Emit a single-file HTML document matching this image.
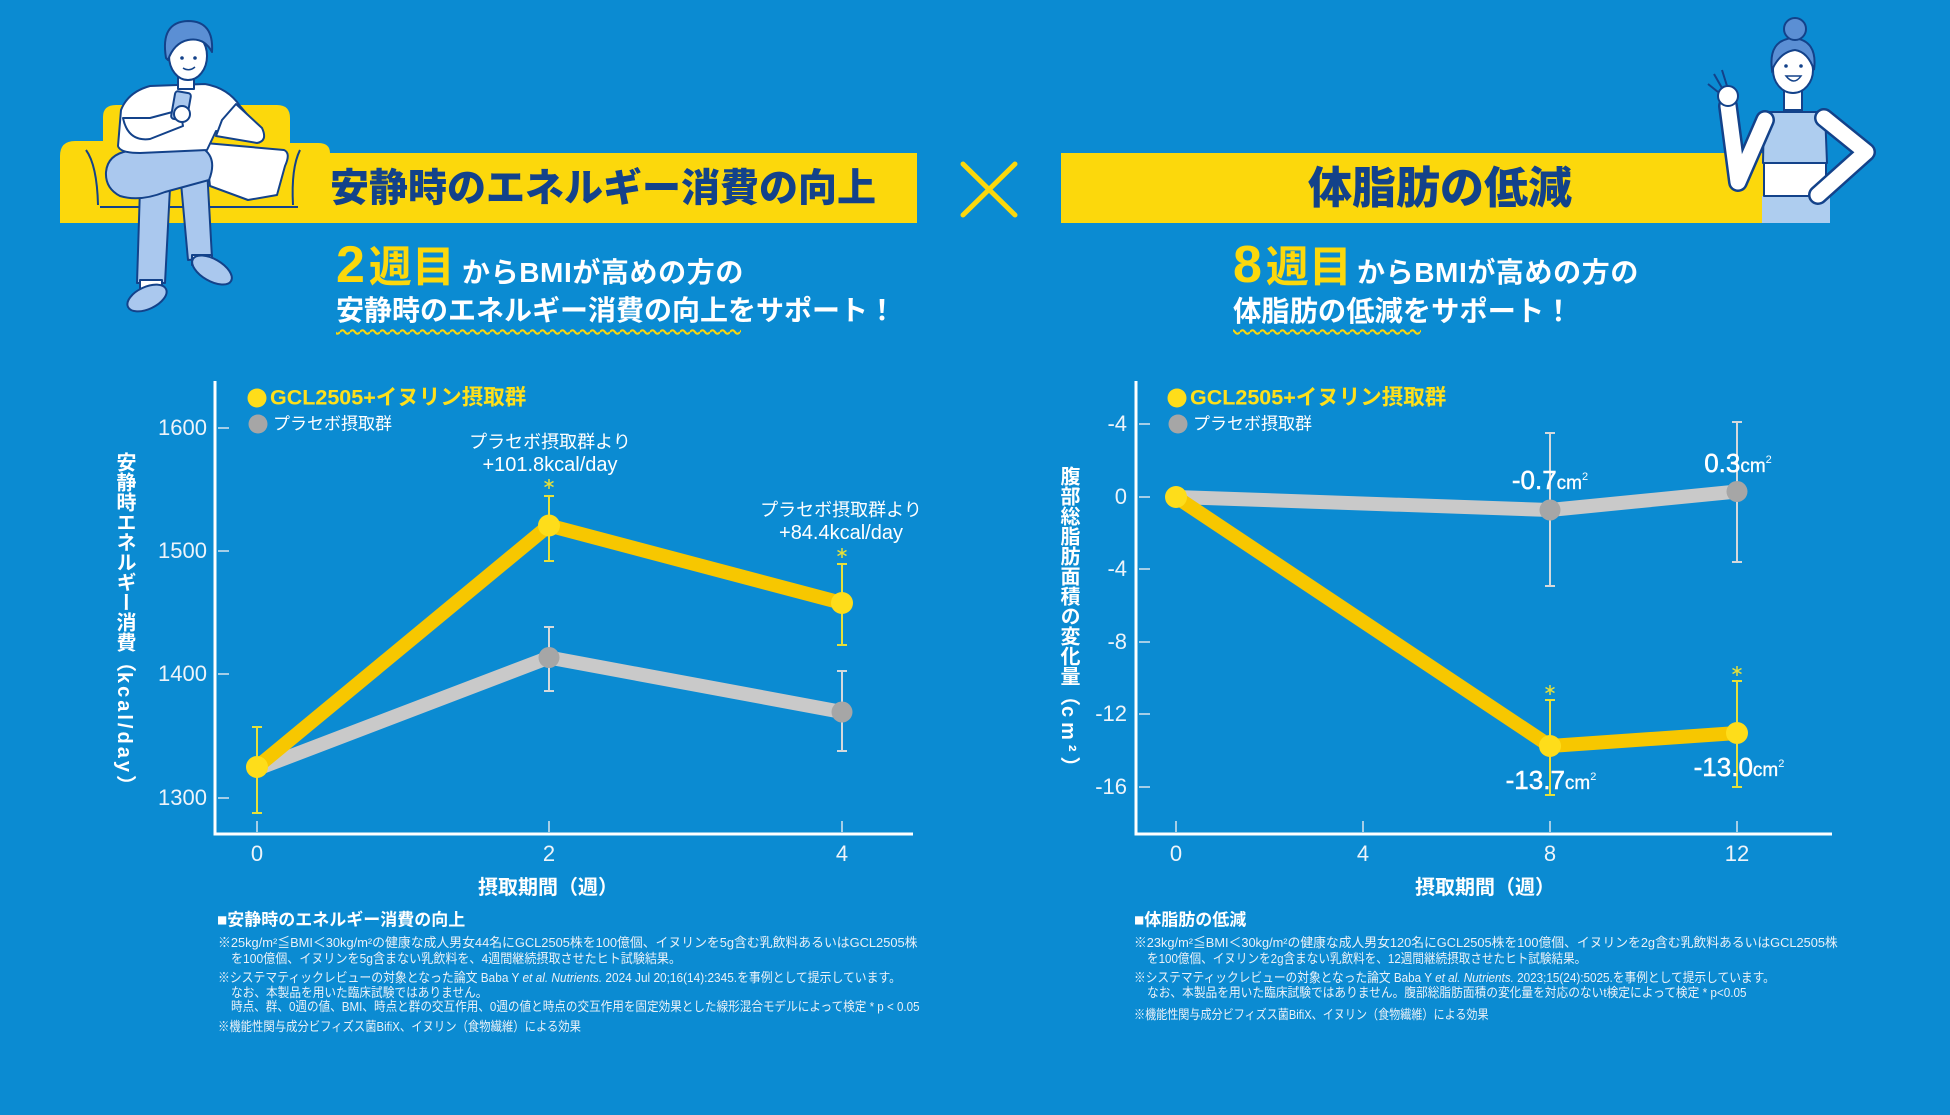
<!DOCTYPE html>
<html lang="ja">
<head>
<meta charset="utf-8">
<style>
html,body{margin:0;padding:0;background:#0b8bd2;}
#c{position:relative;width:1950px;height:1115px;overflow:hidden;background:#0b8bd2;font-family:"Liberation Sans","Noto Sans CJK JP",sans-serif;color:#fff;}
svg{position:absolute;left:0;top:0;}
.a{position:absolute;white-space:nowrap;line-height:1;}
.cc{transform:translate(-50%,-50%);}
.lc{transform:translateY(-50%);}
.rc{transform:translate(-100%,-50%);}
.title{font-weight:900;color:#13428a;}
.sub{font-weight:700;color:#fff;}
.tick{font-size:22px;color:#eef4fa;}
.ann{font-size:18px;color:#fff;}
.ann2{font-size:20px;color:#fff;}
.leg1{font-size:21.5px;font-weight:700;color:#ffe01a;}
.leg2{font-size:17px;color:#fff;}
.axt{font-size:20px;font-weight:700;color:#fff;}
.vt{position:absolute;writing-mode:vertical-rl;text-orientation:mixed;font-size:20px;font-weight:700;line-height:20px;color:#fff;white-space:nowrap;}
.val{font-size:26px;-webkit-text-stroke:0.5px #fff;color:#fff;}
.val .u{font-size:19px;-webkit-text-stroke:0.3px #fff;}
.val sup{font-size:11px;vertical-align:9px;-webkit-text-stroke:0;}
.fh{font-size:17px;font-weight:700;color:#fff;}
.fn{font-size:13.2px;color:#e9f1f8;line-height:16px;transform-origin:left center;}
</style>
</head>
<body>
<div id="c">
<svg width="1950" height="1115" viewBox="0 0 1950 1115" xmlns="http://www.w3.org/2000/svg">
  <defs>
    <pattern id="wave" x="0" y="327" width="10" height="9" patternUnits="userSpaceOnUse">
      <path d="M0 5 Q2.5 1.5 5 5 T10 5" fill="none" stroke="#fcd80c" stroke-width="2"/>
    </pattern>
  </defs>

  <!-- LEFT banner + sofa -->
  <path d="M60 223 V156 Q60 141 75 141 H103 V117 Q103 105 116 105 H277 Q290 105 290 118 V143 H318 Q330 143 330 153 H917 V223 Z" fill="#fcd80c"/>
  <path d="M86 150 Q97 165 98 205" fill="none" stroke="#13428a" stroke-width="2"/>
  <path d="M300 150 Q291 168 293 205" fill="none" stroke="#13428a" stroke-width="2"/>
  <line x1="100" y1="207" x2="298" y2="207" stroke="#13428a" stroke-width="2"/>

  <!-- man -->
  <g stroke="#13428a" stroke-width="2" stroke-linejoin="round">
    <path d="M205 143 L284 150 Q291 153 285 166 L277 195 L248 200 L210 186 Z" fill="#fff"/>
    <path d="M140 188 L170 188 L165 283 L137 283 Z" fill="#aac8ee"/>
    <path d="M180 172 L207 168 L212 258 L188 260 Z" fill="#aac8ee"/>
    <rect x="140" y="280" width="22" height="12" fill="#fff"/>
    <rect x="192" y="255" width="20" height="10" fill="#fff"/>
    <ellipse cx="147" cy="298" rx="21" ry="11" transform="rotate(-25 147 298)" fill="#aac8ee"/>
    <ellipse cx="212" cy="270" rx="22" ry="11" transform="rotate(30 212 270)" fill="#aac8ee"/>
    <path d="M106 172 Q108 150 140 150 L205 150 Q217 160 209 180 L165 192 Q140 202 120 196 Q105 188 106 172 Z" fill="#aac8ee"/>
    <path d="M118 146 L121 110 Q128 92 150 86 L205 84 Q228 88 240 106 L258 127 L246 138 L216 131 L207 150 L140 153 Q120 153 118 146 Z" fill="#fff"/>
    <path d="M123 118 Q128 142 150 139 L183 126 L180 110 L150 118 Z" fill="#fff"/>
    <path d="M236 104 L262 128 Q268 141 257 143 L216 136 L222 120 Z" fill="#fff"/>
    <rect x="173" y="92" width="16" height="28" rx="3" transform="rotate(10 181 106)" fill="#aac8ee"/>
    <circle cx="182" cy="114" r="8" fill="#fff"/>
    <rect x="178" y="76" width="16" height="13" fill="#fff"/>
    <ellipse cx="188" cy="56" rx="19" ry="24" fill="#fff"/>
    <path d="M166 58 Q160 22 188 21 Q214 21 212 52 Q204 37 188 40 Q174 43 168 60 Z" fill="#5b8fd4"/>
  </g>
  <circle cx="182" cy="58" r="1.8" fill="#13428a"/>
  <circle cx="195" cy="58" r="1.8" fill="#13428a"/>
  <path d="M183 68 Q189 72 195 67" fill="none" stroke="#13428a" stroke-width="1.5"/>

  <!-- cross -->
  <g stroke="#fcd80c" stroke-width="5" stroke-linecap="round">
    <line x1="963" y1="164" x2="1015" y2="215"/>
    <line x1="1015" y1="164" x2="963" y2="215"/>
  </g>

  <!-- RIGHT banner -->
  <rect x="1061" y="153" width="706" height="70" fill="#fcd80c"/>

  <!-- woman -->
  <g stroke="#13428a" stroke-width="2" stroke-linejoin="round">
    <rect x="1762" y="196" width="68" height="27" fill="#aecdef" stroke="none"/>
    <rect x="1764" y="162" width="62" height="34" fill="#fff"/>
    <path d="M1764 112 L1825 112 L1827 163 L1763 163 Z" fill="#aecdef"/>
  </g>
  <polyline points="1765,120 1738,182 1728,106" fill="none" stroke="#13428a" stroke-width="20" stroke-linejoin="round" stroke-linecap="round"/>
  <polyline points="1765,120 1738,182 1728,106" fill="none" stroke="#fff" stroke-width="15" stroke-linejoin="round" stroke-linecap="round"/>
  <polyline points="1824,118 1866,152 1818,195" fill="none" stroke="#13428a" stroke-width="20" stroke-linejoin="round" stroke-linecap="round"/>
  <polyline points="1824,118 1866,152 1818,195" fill="none" stroke="#fff" stroke-width="15" stroke-linejoin="round" stroke-linecap="round"/>
  <g stroke="#13428a" stroke-width="2">
    <circle cx="1728" cy="96" r="10" fill="#fff"/>
    <line x1="1722" y1="88" x2="1714" y2="74"/>
    <line x1="1727" y1="86" x2="1722" y2="70"/>
    <line x1="1718" y1="92" x2="1708" y2="84"/>
    <rect x="1784" y="86" width="18" height="24" fill="#fff"/>
    <ellipse cx="1793" cy="70" rx="20" ry="23" fill="#fff"/>
    <path d="M1772 70 Q1768 40 1793 38 Q1818 40 1814 70 Q1808 52 1795 50 Q1780 52 1772 70 Z" fill="#5b8fd4"/>
    <circle cx="1795" cy="29" r="11" fill="#5b8fd4"/>
  </g>
  <circle cx="1786" cy="66" r="1.8" fill="#13428a"/>
  <circle cx="1801" cy="66" r="1.8" fill="#13428a"/>
  <path d="M1786 76 Q1794 86 1801 76 Z" fill="#fff" stroke="#13428a" stroke-width="1.5"/>

  <!-- wavy underlines -->
  <rect x="336" y="327" width="405" height="9" fill="url(#wave)"/>
  <rect x="1233" y="327" width="188" height="9" fill="url(#wave)"/>

  <!-- ============ LEFT CHART ============ -->
  <g stroke="#ffffff" stroke-width="3">
    <line x1="215" y1="381" x2="215" y2="835.5"/>
    <line x1="213.5" y1="834" x2="913" y2="834"/>
  </g>
  <g stroke="#d9e4ee" stroke-width="1.5">
    <line x1="218" y1="428" x2="229" y2="428"/>
    <line x1="218" y1="551" x2="229" y2="551"/>
    <line x1="218" y1="674" x2="229" y2="674"/>
    <line x1="218" y1="798" x2="229" y2="798"/>
    <line x1="257" y1="821" x2="257" y2="832"/>
    <line x1="549" y1="821" x2="549" y2="832"/>
    <line x1="842" y1="821" x2="842" y2="832"/>
  </g>
  <polyline points="257,769 549,657.5 842,712" fill="none" stroke="#c9c9c9" stroke-width="14" stroke-linejoin="round" stroke-linecap="round"/>
  <polyline points="257,767 549,525.5 842,603" fill="none" stroke="#f7c700" stroke-width="14" stroke-linejoin="round" stroke-linecap="round"/>
  <g stroke="#e6e03a" stroke-width="2">
    <line x1="257" y1="727" x2="257" y2="813"/><line x1="252" y1="727" x2="262" y2="727"/><line x1="252" y1="813" x2="262" y2="813"/>
    <line x1="549" y1="496" x2="549" y2="561"/><line x1="544" y1="496" x2="554" y2="496"/><line x1="544" y1="561" x2="554" y2="561"/>
    <line x1="842" y1="564" x2="842" y2="645"/><line x1="837" y1="564" x2="847" y2="564"/><line x1="837" y1="645" x2="847" y2="645"/>
  </g>
  <g stroke="#d5d9dc" stroke-width="2">
    <line x1="549" y1="627" x2="549" y2="691"/><line x1="544" y1="627" x2="554" y2="627"/><line x1="544" y1="691" x2="554" y2="691"/>
    <line x1="842" y1="671" x2="842" y2="751"/><line x1="837" y1="671" x2="847" y2="671"/><line x1="837" y1="751" x2="847" y2="751"/>
  </g>
  <g stroke="#e6e03a" stroke-width="1.5">
    <line x1="549" y1="479" x2="549" y2="489"/><line x1="544.5" y1="481.5" x2="553.5" y2="486.5"/><line x1="553.5" y1="481.5" x2="544.5" y2="486.5"/>
    <line x1="842" y1="548" x2="842" y2="558"/><line x1="837.5" y1="550.5" x2="846.5" y2="555.5"/><line x1="846.5" y1="550.5" x2="837.5" y2="555.5"/>
  </g>
  <circle cx="549" cy="657.5" r="10.5" fill="#a6a6a6"/>
  <circle cx="842" cy="712" r="10.5" fill="#a6a6a6"/>
  <circle cx="257" cy="767" r="11" fill="#fedd1a"/>
  <circle cx="549" cy="525.5" r="11" fill="#fedd1a"/>
  <circle cx="842" cy="603" r="11" fill="#fedd1a"/>
  <circle cx="257" cy="398" r="9.5" fill="#fedd1a"/>
  <circle cx="258" cy="424" r="9.5" fill="#a6a6a6"/>

  <!-- ============ RIGHT CHART ============ -->
  <g stroke="#ffffff" stroke-width="3">
    <line x1="1136" y1="381" x2="1136" y2="835.5"/>
    <line x1="1134.5" y1="834" x2="1832" y2="834"/>
  </g>
  <g stroke="#d9e4ee" stroke-width="1.5">
    <line x1="1139" y1="424" x2="1150" y2="424"/>
    <line x1="1139" y1="497" x2="1150" y2="497"/>
    <line x1="1139" y1="569" x2="1150" y2="569"/>
    <line x1="1139" y1="642" x2="1150" y2="642"/>
    <line x1="1139" y1="714" x2="1150" y2="714"/>
    <line x1="1139" y1="787" x2="1150" y2="787"/>
    <line x1="1176" y1="821" x2="1176" y2="832"/>
    <line x1="1363" y1="821" x2="1363" y2="832"/>
    <line x1="1550" y1="821" x2="1550" y2="832"/>
    <line x1="1737" y1="821" x2="1737" y2="832"/>
  </g>
  <polyline points="1176,497 1550,510 1737,491.5" fill="none" stroke="#c9c9c9" stroke-width="14" stroke-linejoin="round" stroke-linecap="round"/>
  <polyline points="1176,497 1550,746 1737,733" fill="none" stroke="#f7c700" stroke-width="14" stroke-linejoin="round" stroke-linecap="round"/>
  <g stroke="#d5d9dc" stroke-width="2">
    <line x1="1550" y1="433" x2="1550" y2="586"/><line x1="1545" y1="433" x2="1555" y2="433"/><line x1="1545" y1="586" x2="1555" y2="586"/>
    <line x1="1737" y1="422" x2="1737" y2="562"/><line x1="1732" y1="422" x2="1742" y2="422"/><line x1="1732" y1="562" x2="1742" y2="562"/>
  </g>
  <g stroke="#e6e03a" stroke-width="2">
    <line x1="1550" y1="700" x2="1550" y2="795"/><line x1="1545" y1="700" x2="1555" y2="700"/><line x1="1545" y1="795" x2="1555" y2="795"/>
    <line x1="1737" y1="681" x2="1737" y2="787"/><line x1="1732" y1="681" x2="1742" y2="681"/><line x1="1732" y1="787" x2="1742" y2="787"/>
  </g>
  <g stroke="#e6e03a" stroke-width="1.5">
    <line x1="1550" y1="685" x2="1550" y2="695"/><line x1="1545.5" y1="687.5" x2="1554.5" y2="692.5"/><line x1="1554.5" y1="687.5" x2="1545.5" y2="692.5"/>
    <line x1="1737" y1="666" x2="1737" y2="676"/><line x1="1732.5" y1="668.5" x2="1741.5" y2="673.5"/><line x1="1741.5" y1="668.5" x2="1732.5" y2="673.5"/>
  </g>
  <circle cx="1550" cy="510" r="10.5" fill="#a6a6a6"/>
  <circle cx="1737" cy="491.5" r="10.5" fill="#a6a6a6"/>
  <circle cx="1176" cy="497" r="11" fill="#fedd1a"/>
  <circle cx="1550" cy="746" r="11" fill="#fedd1a"/>
  <circle cx="1737" cy="733" r="11" fill="#fedd1a"/>
  <circle cx="1177" cy="398" r="9.5" fill="#fedd1a"/>
  <circle cx="1178" cy="424" r="9.5" fill="#a6a6a6"/>
</svg>

<!-- Banner titles -->
<div class="a lc title" style="left:330px;top:189px;font-size:39px;">安静時のエネルギー消費の向上</div>
<div class="a cc title" style="left:1440px;top:189px;font-size:44px;">体脂肪の低減</div>

<!-- Subtitles left -->
<div class="a lc" style="left:336px;top:265px;font-weight:700;color:#fcd80c;"><span style="font-size:52px;margin-right:4px;">2</span><span style="font-size:43px;">週目</span></div>
<div class="a lc sub" style="left:462px;top:273px;font-size:28px;letter-spacing:0.6px;">からBMIが高めの方の</div>
<div class="a lc sub" style="left:336px;top:311px;font-size:28px;">安静時のエネルギー消費の向上をサポート！</div>

<!-- Subtitles right -->
<div class="a lc" style="left:1233px;top:265px;font-weight:700;color:#fcd80c;"><span style="font-size:52px;margin-right:4px;">8</span><span style="font-size:43px;">週目</span></div>
<div class="a lc sub" style="left:1357px;top:273px;font-size:28px;letter-spacing:0.6px;">からBMIが高めの方の</div>
<div class="a lc sub" style="left:1233px;top:311px;font-size:28.3px;">体脂肪の低減をサポート！</div>

<!-- Left chart text -->
<div class="a lc leg1" style="left:270px;top:398px;">GCL2505+イヌリン摂取群</div>
<div class="a lc leg2" style="left:273px;top:424px;">プラセボ摂取群</div>

<div class="a rc tick" style="left:207px;top:428px;">1600</div>
<div class="a rc tick" style="left:207px;top:551px;">1500</div>
<div class="a rc tick" style="left:207px;top:674px;">1400</div>
<div class="a rc tick" style="left:207px;top:798px;">1300</div>
<div class="a cc tick" style="left:257px;top:854px;">0</div>
<div class="a cc tick" style="left:549px;top:854px;">2</div>
<div class="a cc tick" style="left:842px;top:854px;">4</div>

<div class="a cc ann" style="left:550px;top:442px;">プラセボ摂取群より</div>
<div class="a cc ann2" style="left:550px;top:465px;">+101.8kcal/day</div>
<div class="a cc ann" style="left:841px;top:510px;">プラセボ摂取群より</div>
<div class="a cc ann2" style="left:841px;top:533px;">+84.4kcal/day</div>

<div class="vt" style="left:114px;top:452px;">安静時エネルギー消費（<span style="letter-spacing:3px;">kcal/day</span>）</div>
<div class="a cc axt" style="left:548px;top:888px;">摂取期間（週）</div>

<!-- Right chart text -->
<div class="a lc leg1" style="left:1190px;top:398px;">GCL2505+イヌリン摂取群</div>
<div class="a lc leg2" style="left:1193px;top:424px;">プラセボ摂取群</div>

<div class="a rc tick" style="left:1127px;top:424px;">-4</div>
<div class="a rc tick" style="left:1127px;top:497px;">0</div>
<div class="a rc tick" style="left:1127px;top:569px;">-4</div>
<div class="a rc tick" style="left:1127px;top:642px;">-8</div>
<div class="a rc tick" style="left:1127px;top:714px;">-12</div>
<div class="a rc tick" style="left:1127px;top:787px;">-16</div>
<div class="a cc tick" style="left:1176px;top:854px;">0</div>
<div class="a cc tick" style="left:1363px;top:854px;">4</div>
<div class="a cc tick" style="left:1550px;top:854px;">8</div>
<div class="a cc tick" style="left:1737px;top:854px;">12</div>

<div class="a cc val" style="left:1550px;top:480px;">-0.7<span class="u">cm<sup>2</sup></span></div>
<div class="a cc val" style="left:1738px;top:463px;">0.3<span class="u">cm<sup>2</sup></span></div>
<div class="a cc val" style="left:1551px;top:780px;">-13.7<span class="u">cm<sup>2</sup></span></div>
<div class="a cc val" style="left:1739px;top:767px;">-13.0<span class="u">cm<sup>2</sup></span></div>

<div class="vt" style="left:1058px;top:466px;">腹部総脂肪面積の変化量（<span style="letter-spacing:5px;">cm²</span>）</div>
<div class="a cc axt" style="left:1485px;top:888px;">摂取期間（週）</div>

<!-- Footnotes left -->
<div class="a lc fh" style="left:217px;top:920px;">■安静時のエネルギー消費の向上</div>
<div class="a fn" style="left:218px;top:943px;transform:translateY(-50%) scaleX(0.974);">※25kg/m²≦BMI＜30kg/m²の健康な成人男女44名にGCL2505株を100億個、イヌリンを5g含む乳飲料あるいはGCL2505株</div>
<div class="a fn" style="left:231px;top:959px;transform:translateY(-50%) scaleX(0.914);">を100億個、イヌリンを5g含まない乳飲料を、4週間継続摂取させたヒト試験結果。</div>
<div class="a fn" style="left:218px;top:978px;transform:translateY(-50%) scaleX(0.898);">※システマティックレビューの対象となった論文 Baba Y <i>et al. Nutrients.</i> 2024 Jul 20;16(14):2345.を事例として提示しています。</div>
<div class="a fn" style="left:231px;top:993px;transform:translateY(-50%) scaleX(0.885);">なお、本製品を用いた臨床試験ではありません。</div>
<div class="a fn" style="left:231px;top:1007px;transform:translateY(-50%) scaleX(0.879);">時点、群、0週の値、BMI、時点と群の交互作用、0週の値と時点の交互作用を固定効果とした線形混合モデルによって検定 * p &lt; 0.05</div>
<div class="a fn" style="left:218px;top:1027px;transform:translateY(-50%) scaleX(0.86);">※機能性関与成分ビフィズス菌BifiX、イヌリン（食物繊維）による効果</div>

<!-- Footnotes right -->
<div class="a lc fh" style="left:1134px;top:920px;">■体脂肪の低減</div>
<div class="a fn" style="left:1134px;top:943px;transform:translateY(-50%) scaleX(0.97);">※23kg/m²≦BMI＜30kg/m²の健康な成人男女120名にGCL2505株を100億個、イヌリンを2g含む乳飲料あるいはGCL2505株</div>
<div class="a fn" style="left:1147px;top:959px;transform:translateY(-50%) scaleX(0.879);">を100億個、イヌリンを2g含まない乳飲料を、12週間継続摂取させたヒト試験結果。</div>
<div class="a fn" style="left:1134px;top:978px;transform:translateY(-50%) scaleX(0.888);">※システマティックレビューの対象となった論文 Baba Y <i>et al. Nutrients.</i> 2023;15(24):5025.を事例として提示しています。</div>
<div class="a fn" style="left:1147px;top:993px;transform:translateY(-50%) scaleX(0.888);">なお、本製品を用いた臨床試験ではありません。腹部総脂肪面積の変化量を対応のないt検定によって検定 * p&lt;0.05</div>
<div class="a fn" style="left:1134px;top:1015px;transform:translateY(-50%) scaleX(0.84);">※機能性関与成分ビフィズス菌BifiX、イヌリン（食物繊維）による効果</div>
</div>
</body>
</html>
